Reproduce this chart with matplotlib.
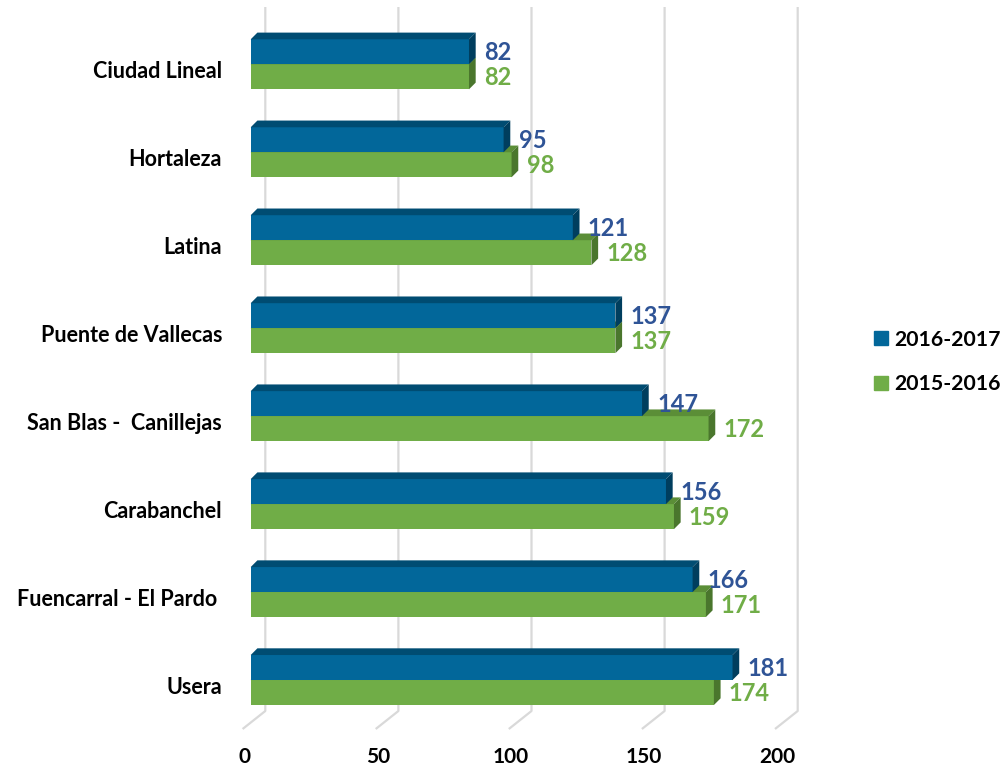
import matplotlib
matplotlib.use("Agg")
import matplotlib.pyplot as plt
from matplotlib.patches import Polygon, Patch

categories = ["Ciudad Lineal", "Hortaleza", "Latina", "Puente de Vallecas",
              "San Blas -  Canillejas", "Carabanchel", "Fuencarral - El Pardo ", "Usera"]
s2016_2017 = [82, 95, 121, 137, 147, 156, 166, 181]
s2015_2016 = [82, 98, 128, 137, 172, 159, 171, 174]
series_names = ["2016-2017", "2015-2016"]
xticks = [0, 50, 100, 150, 200]

plt.rcParams['font.family'] = ['Lato', 'DejaVu Sans']
plt.rcParams['font.weight'] = 'bold'

W, H = 1000, 771
fig = plt.figure(figsize=(W / 100, H / 100), dpi=100)
ax = fig.add_axes([0, 0, 1, 1])

# pixel-linear mapping
X0, SX = 250.7, 2.662          # x pixel = X0 + SX*v
Y0, SY = 64.3, 87.96           # y pixel = Y0 + SY*k
ax.set_xlim(-X0 / SX, (W - X0) / SX)
ax.set_ylim((H - Y0) / SY, -Y0 / SY)
ax.axis('off')

def dx(p):
    return p / SX

def dy(p):
    return p / SY

blue_front, blue_top, blue_side = '#02679A', '#004C72', '#003E5E'
green_front, green_top, green_side = '#70AD47', '#5B8E37', '#4A762D'
blue_txt, green_txt = '#2F5496', '#70AD47'
grid_c = '#D9D9D9'

# gridlines (back wall + floor)
for v in xticks:
    xb = v + dx(14.6)
    xf = v + dx(-8.1)
    ax.plot([xb, xb, xf], [dy(7 - Y0), dy(711 - Y0), dy(729 - Y0)],
            color=grid_c, lw=1.6, zorder=1, solid_capstyle='butt')
    ax.text(xf + dx(2), dy(757 - Y0), str(v), ha='center', va='center',
            fontsize=15, fontweight='bold', color='black')

h = dy(25)
ox, oy = dx(6.7), dy(-6.7)
n = len(categories)
ks = list(range(n))

def faces(k, val, top, front, side, z):
    ytop = k - h if front == blue_front else k
    ax.add_patch(Polygon([(0, ytop), (ox, ytop + oy), (val + ox, ytop + oy), (val, ytop)],
                         closed=True, facecolor=top, edgecolor='none', zorder=z))
    ax.add_patch(Polygon([(val, ytop), (val + ox, ytop + oy), (val + ox, ytop + h + oy), (val, ytop + h)],
                         closed=True, facecolor=side, edgecolor='none', zorder=z))

gb = ax.barh([k + h / 2 for k in ks], s2015_2016, height=h, color=green_front,
             zorder=2, label=series_names[1], linewidth=0)
for k, v in zip(ks, s2015_2016):
    faces(k, v, green_top, green_front, green_side, 2)
bb = ax.barh([k - h / 2 for k in ks], s2016_2017, height=h, color=blue_front,
             zorder=3, label=series_names[0], linewidth=0)
for k, v in zip(ks, s2016_2017):
    faces(k, v, blue_top, blue_front, blue_side, 3)

# value labels
for k, v in zip(ks, s2016_2017):
    ax.text(v + dx(15), k - h / 2 + dy(1), str(v), ha='left', va='center',
            fontsize=17, fontweight='bold', color=blue_txt, zorder=5)
for k, v in zip(ks, s2015_2016):
    ax.text(v + dx(15), k + h / 2 + dy(1), str(v), ha='left', va='center',
            fontsize=17, fontweight='bold', color=green_txt, zorder=5)

# category labels
for k, c in zip(ks, categories):
    ax.text(dx(222 - X0), k + dy(7), c, ha='right', va='center',
            fontsize=15.5, fontweight='bold', color='black')

handles = [Patch(color=blue_front, label=series_names[0]),
           Patch(color=green_front, label=series_names[1])]
leg = ax.legend(handles=handles, loc='center left',
                bbox_to_anchor=(874 / W, 1 - 362 / H), frameon=False,
                borderpad=0, borderaxespad=0,
                handlelength=0.65, handleheight=0.65, handletextpad=0.3,
                labelspacing=1.15, prop={'size': 15.3, 'weight': 'bold'})

fig.savefig('out.png', dpi=100, facecolor='white')
